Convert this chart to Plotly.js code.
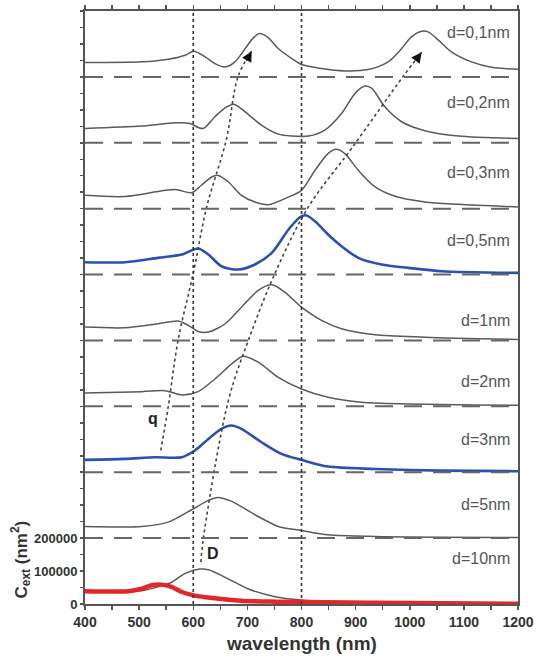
<!DOCTYPE html>
<html>
<head>
<meta charset="utf-8">
<script src="https://cdn.plot.ly/plotly-3.0.1.min.js"></script>
<style>html,body{margin:0;padding:0;background:#fff;}#chart{width:536px;height:661px;}</style>
</head>
<body>
<div id="chart"></div>
<script>
// ---- data ----
const labels = ["d=0,1nm","d=0,2nm","d=0,3nm","d=0,5nm","d=1nm","d=2nm","d=3nm","d=5nm","d=10nm"];
const baselines = [1600000,1400000,1200000,1000000,800000,600000,400000,200000,0];

const wl_d01 = [400,505,554,585,601,622,640,659,677,696,711,723,739,757,782,800,837,880,923,960,985,1003,1022,1034,1053,1077,1114,1151,1200];
const ext_d01 = [43500,45600,53700,65900,78000,60800,40500,30400,45600,86000,118500,131700,118500,86000,55700,37500,25300,18200,22300,45600,86000,121600,138800,136800,111400,76000,45600,29400,23000];

const wl_d02 = [400,505,566,594,609,619,640,659,676,696,726,757,782,813,843,874,899,917,930,954,985,1028,1090,1200];
const ext_d02 = [43600,50700,60800,58800,46600,43600,79000,106000,116500,94000,53700,26300,20300,20300,38500,89000,150000,172000,165000,109000,63800,36500,20300,13000];

const wl_d03 = [400,474,566,597,615,634,646,665,689,714,739,769,800,825,849,864,880,905,936,973,1028,1090,1200];
const ext_d03 = [40500,37000,57800,48600,71000,96000,101000,81000,40500,20300,12200,30400,55700,116500,167000,180000,167000,116500,65900,37500,20300,13200,5000];

const wl_d05 = [400,474,535,579,609,628,652,683,714,745,776,797,808,825,849,874,905,948,997,1059,1200];
const ext_d05 = [37500,37500,50700,60800,79000,60800,25300,15200,30400,65900,136800,174000,180000,162000,121600,86000,50700,30400,20300,10000,5000];

const wl_d1 = [400,474,535,572,591,609,628,659,689,720,745,769,800,837,874,936,1028,1200];
const ext_d1 = [40500,38500,50700,58800,45600,27400,25300,50700,101000,152000,169000,147000,101000,60800,35500,17200,10000,3000];

const wl_d2 = [400,505,548,579,609,640,671,692,720,757,800,849,911,997,1120,1200];
const ext_d2 = [40500,44600,47600,34400,44600,83000,128700,152000,134000,88000,52700,27400,12200,7000,4000,3000];

const wl_d3 = [400,474,529,579,603,628,652,671,689,726,763,800,849,936,1059,1200];
const ext_d3 = [37500,40500,45600,45600,65900,101000,131700,141800,131700,91000,55700,37500,17200,10000,5000,3000];

const wl_d5 = [400,505,554,597,628,645,671,714,757,800,849,936,1200];
const ext_d5 = [35500,35500,48600,86000,114500,123600,111400,71000,35500,23300,10000,5000,2000];

const wl_d10 = [400,505,542,560,585,612,628,659,702,751,800,849,936,1200];
const ext_d10 = [37500,40500,55700,66000,93000,106000,104000,81000,45600,22300,12000,7000,3000,1000];

const wl_d10_red = [400,480,505,523,542,560,579,601,640,689,751,843,997,1200];
const ext_d10_red = [39000,39000,46600,56700,58800,51700,36500,26300,17200,10000,7000,5000,3000,500];

// trend guide lines (q and D)
const q_wl = [540,554,572,600,625,661,683,708];
const q_ext = [466000,601000,801000,1004000,1206000,1409000,1602000,1678000];
const D_wl = [614,619,665,702,751,813,893,988,1022];
const D_ext = [127000,203000,618000,801000,1004000,1206000,1384000,1602000,1675000];

const xTickVals = [400,450,500,550,600,650,700,750,800,850,900,950,1000,1050,1100,1150,1200];
const xTickText = ["400","","500","","600","","700","","800","","900","","1000","","1100","","1200"];
const yLabelled = {0:"0",100000:"100000",200000:"200000"};

// ---- build ----
const series = [
  [wl_d01, ext_d01, "gray"], [wl_d02, ext_d02, "gray"], [wl_d03, ext_d03, "gray"],
  [wl_d05, ext_d05, "blue"], [wl_d1, ext_d1, "gray"], [wl_d2, ext_d2, "gray"],
  [wl_d3, ext_d3, "blue"], [wl_d5, ext_d5, "gray"], [wl_d10, ext_d10, "gray"]
];
const FONT = "Arial, 'Liberation Sans', sans-serif";
const traces = [];
series.forEach((s, i) => {
  const base = baselines[i];
  const blue = s[2] === "blue";
  traces.push({
    x: s[0], y: s[1].map(v => v + base), mode: "lines",
    line: {color: blue ? "#2d4fae" : "#5a5a5a", width: blue ? 2.6 : 1.5, shape: "spline", smoothing: 0.8},
    hoverinfo: "skip", showlegend: false
  });
});
traces.push({
  x: wl_d10_red, y: ext_d10_red, mode: "lines",
  line: {color: "#e3262b", width: 4.5, shape: "spline", smoothing: 0.8},
  hoverinfo: "skip", showlegend: false
});
traces.push({x: q_wl, y: q_ext, mode: "lines", line: {color: "#444", width: 1.6, dash: "dot", shape: "spline"}, showlegend: false, hoverinfo: "skip"});
traces.push({x: D_wl, y: D_ext, mode: "lines", line: {color: "#444", width: 1.6, dash: "dot", shape: "spline"}, showlegend: false, hoverinfo: "skip"});

const yTickVals = [];
for (let v = 0; v <= 1800000; v += 50000) yTickVals.push(v);
const yTickText = yTickVals.map(v => yLabelled[v] !== undefined ? yLabelled[v] : "");

const shapes = [];
baselines.forEach(b => {
  if (b > 0) shapes.push({type: "line", xref: "paper", x0: 0, x1: 1, yref: "y", y0: b, y1: b,
    line: {color: "#666", width: 2, dash: "18px,11px"}});
});
[600, 800].forEach(x => shapes.push({type: "line", xref: "x", x0: x, x1: x, yref: "paper", y0: 0, y1: 1,
  line: {color: "#333", width: 1.6, dash: "dot"}}));

const labelY = [1734000,1521000,1310000,1102000,862000,674000,500000,301000,139000];
const annotations = labels.map((t, i) => ({
  x: 1188, y: labelY[i], xref: "x", yref: "y", text: t, showarrow: false,
  xanchor: "right", yanchor: "middle", font: {family: FONT, size: 16, color: "#555"}
}));
annotations.push({x: 526, y: 563000, xref: "x", yref: "y", text: "<b>q</b>", showarrow: false,
  font: {family: FONT, size: 16, color: "#222"}});
annotations.push({x: 637, y: 153000, xref: "x", yref: "y", text: "<b>D</b>", showarrow: false,
  font: {family: FONT, size: 16, color: "#222"}});
// arrowheads
annotations.push({x: q_wl[q_wl.length-1], y: q_ext[q_ext.length-1], xref: "x", yref: "y", text: "",
  showarrow: true, arrowhead: 2, arrowsize: 1.3, arrowwidth: 1.6, arrowcolor: "#111", ax: -6, ay: 11, standoff: 0});
annotations.push({x: D_wl[D_wl.length-1], y: D_ext[D_ext.length-1], xref: "x", yref: "y", text: "",
  showarrow: true, arrowhead: 2, arrowsize: 1.3, arrowwidth: 1.6, arrowcolor: "#111", ax: -7, ay: 9.5, standoff: 0});
// axis titles
annotations.push({xref: "paper", yref: "y", x: -0.148, y: 135000, textangle: -90,
  text: "<b>C<sub>ext</sub> (nm<sup>2</sup>)</b>", showarrow: false, xanchor: "center", yanchor: "middle",
  font: {family: FONT, size: 17, color: "#333"}});
annotations.push({xref: "paper", yref: "paper", x: 0.5, y: -0.067, text: "<b>wavelength (nm)</b>",
  showarrow: false, xanchor: "center", yanchor: "middle", font: {family: FONT, size: 19, color: "#333"}});

const layout = {
  width: 536, height: 661,
  margin: {l: 85, r: 18, t: 11, b: 57},
  paper_bgcolor: "#fff", plot_bgcolor: "#fff",
  showlegend: false,
  xaxis: {range: [400, 1200], tickmode: "array", tickvals: xTickVals, ticktext: xTickText,
    ticks: "outside", ticklen: 4, tickwidth: 1.5, tickcolor: "#555",
    showline: true, linecolor: "#555", linewidth: 2, mirror: "ticks",
    showgrid: false, zeroline: false,
    tickfont: {family: FONT, size: 14, color: "#333", weight: "bold"}},
  yaxis: {range: [0, 1800000], tickmode: "array", tickvals: yTickVals, ticktext: yTickText,
    ticks: "outside", ticklen: 3, tickwidth: 1.5, tickcolor: "#555",
    showline: true, linecolor: "#555", linewidth: 2, mirror: true,
    showgrid: false, zeroline: false,
    tickfont: {family: FONT, size: 13, color: "#333", weight: "bold"}},
  shapes: shapes,
  annotations: annotations
};
Plotly.newPlot("chart", traces, layout, {staticPlot: true, displayModeBar: false});
</script>
</body>
</html>
